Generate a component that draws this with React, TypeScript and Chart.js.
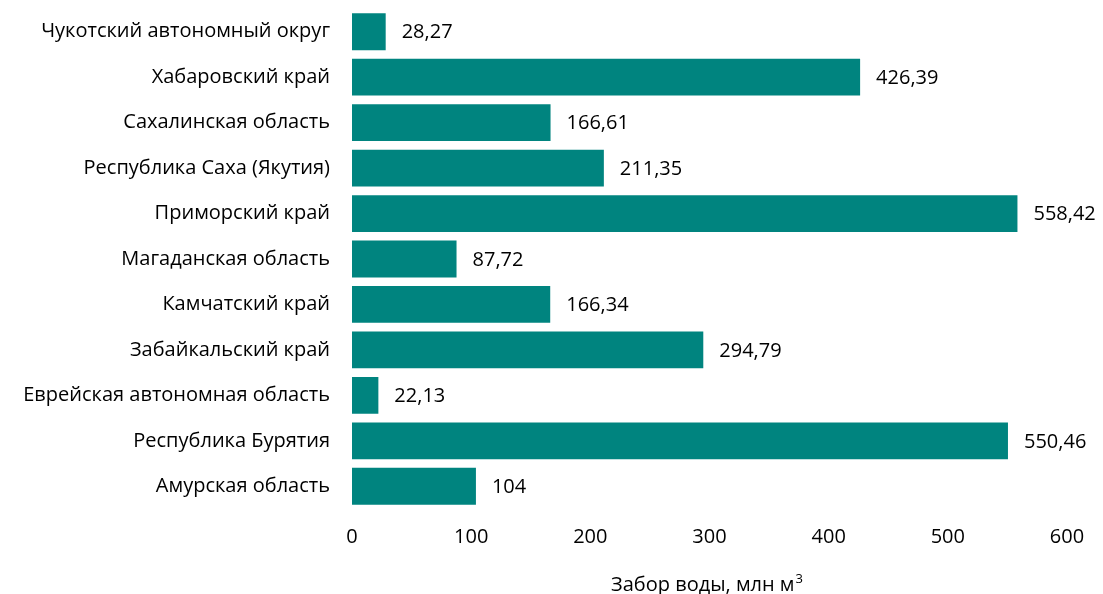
import React, { useEffect, useRef } from "react";
import { Chart, registerables } from "chart.js";

Chart.register(...registerables);

const categories = [
  "Чукотский автономный округ",
  "Хабаровский край",
  "Сахалинская область",
  "Республика Саха (Якутия)",
  "Приморский край",
  "Магаданская область",
  "Камчатский край",
  "Забайкальский край",
  "Еврейская автономная область",
  "Республика Бурятия",
  "Амурская область",
];
const values = [28.27, 426.39, 166.61, 211.35, 558.42, 87.72, 166.34, 294.79, 22.13, 550.46, 104];
const xTicks = [0, 100, 200, 300, 400, 500, 600];
const axisTitle = "Забор воды, млн м";
const axisTitleSup = "3";

const FONT = "'Open Sans', sans-serif";
const FS = 20;
const BAR = "#00847F";

const valueLabels = {
  id: "valueLabels",
  afterDatasetsDraw(chart: any) {
    const ctx = chart.ctx;
    const meta = chart.getDatasetMeta(0);
    ctx.save();
    ctx.font = `${FS}px ${FONT}`;
    ctx.fillStyle = "#000";
    ctx.textAlign = "left";
    ctx.textBaseline = "middle";
    meta.data.forEach((el: any, i: number) => {
      const txt = String(values[i]).replace(".", ",");
      ctx.fillText(txt, el.x + 16, el.y + 1);
    });
    ctx.restore();
  },
};

const titlePlugin = {
  id: "axisTitleSup",
  afterDraw(chart: any) {
    const ctx = chart.ctx;
    const area = chart.chartArea;
    const cx = (area.left + area.right) / 2 - 3;
    ctx.save();
    ctx.font = `${FS}px ${FONT}`;
    const w = ctx.measureText(axisTitle).width;
    ctx.font = `13px ${FONT}`;
    const ws = ctx.measureText(axisTitleSup).width;
    const x0 = cx - (w + ws) / 2;
    ctx.fillStyle = "#000";
    ctx.textAlign = "left";
    ctx.textBaseline = "alphabetic";
    ctx.font = `${FS}px ${FONT}`;
    ctx.fillText(axisTitle, x0, 591);
    ctx.font = `13px ${FONT}`;
    ctx.fillText(axisTitleSup, x0 + w + 1, 583);
    ctx.restore();
  },
};

export default function App() {
  const ref = useRef<HTMLCanvasElement>(null);
  useEffect(() => {
    document.body.style.margin = "0";
    const chart = new Chart(ref.current!, {
      type: "bar",
      data: {
        labels: categories,
        datasets: [
          {
            data: values,
            backgroundColor: BAR,
            categoryPercentage: 1,
            barPercentage: 0.81,
          },
        ],
      },
      options: {
        indexAxis: "y",
        responsive: false,
        animation: false,
        layout: { padding: { top: 9, right: 36, left: 0, bottom: 0 } },
        plugins: { legend: { display: false }, tooltip: { enabled: false } },
        scales: {
          x: {
            min: 0,
            max: 600,
            afterBuildTicks: (s: any) => {
              s.ticks = xTicks.map((v) => ({ value: v }));
            },
            grid: { display: false, drawTicks: false, tickLength: 0 },
            border: { display: false },
            ticks: {
              color: "#000",
              font: { family: FONT, size: FS },
              padding: 16,
            },
            afterFit: (s: any) => {
              s.height = 85;
              s.paddingLeft = 0;
              s.paddingRight = 0;
            },
          },
          y: {
            grid: { display: false, drawTicks: false, tickLength: 0 },
            border: { display: false },
            ticks: {
              color: "#000",
              font: { family: FONT, size: FS },
              padding: 22,
            },
            afterFit: (s: any) => {
              s.width = 352;
              s.paddingTop = 0;
              s.paddingBottom = 0;
            },
          },
        },
      },
      plugins: [valueLabels, titlePlugin],
    });
    return () => chart.destroy();
  }, []);
  return (
    <div style={{ width: 1103, height: 594 }}>
      <canvas ref={ref} width={1103} height={594} />
    </div>
  );
}
